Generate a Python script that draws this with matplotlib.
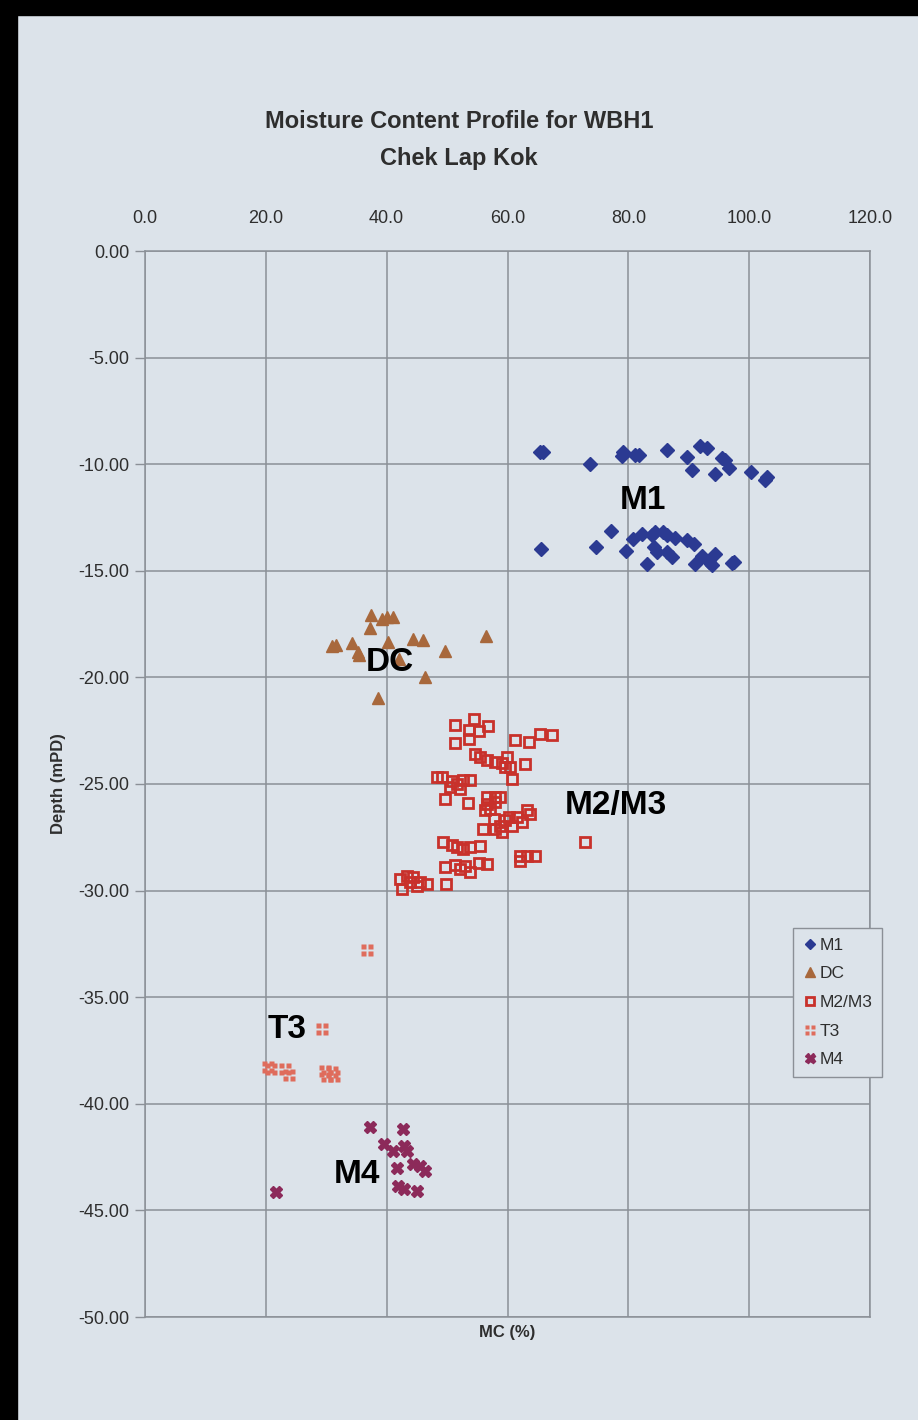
import numpy as np
import matplotlib.pyplot as plt
from matplotlib.path import Path
from matplotlib.patches import Rectangle

# moisture content (%) and depth (mPD)
m1_mc = [65.4, 65.8, 73.6, 78.9, 79.1, 81.1, 81.7, 86.4, 89.7, 91.9, 93.0, 90.6, 95.5, 96.0,
         96.7, 94.4, 100.3, 102.6, 103.0,
         65.6, 74.7, 77.1, 79.6, 80.7, 82.2, 83.9, 84.4, 85.8, 86.4, 87.7, 84.2, 84.7, 86.4,
         87.2, 83.1, 89.7, 90.8, 91.1, 92.2, 93.4, 94.4, 93.8, 97.1, 97.5]
m1_depth = [-9.45, -9.45, -10.0, -9.62, -9.42, -9.55, -9.55, -9.34, -9.66, -9.15, -9.26, -10.28,
            -9.73, -9.81, -10.2, -10.47, -10.36, -10.75, -10.6,
            -13.99, -13.9, -13.13, -14.08, -13.49, -13.29, -13.33, -13.18, -13.18, -13.33, -13.44,
            -13.88, -14.1, -14.1, -14.35, -14.69, -13.57, -13.72, -14.69, -14.32, -14.58, -14.19,
            -14.74, -14.63, -14.6]

dc_mc = [37.4, 40.0, 41.1, 39.2, 37.3, 30.9, 31.6, 34.2, 35.3, 35.5, 40.2, 44.3, 46.0, 49.7,
         56.5, 42.1, 46.4, 38.5]
dc_depth = [-17.09, -17.17, -17.17, -17.25, -17.7, -18.54, -18.5, -18.39, -18.81, -18.97,
            -18.34, -18.19, -18.26, -18.78, -18.07, -19.13, -19.98, -20.95]

m23_mc = [51.3, 54.4, 53.7, 55.2, 56.7, 53.7, 51.3, 61.3, 63.6, 65.4, 67.3,
          54.6, 55.5, 56.6, 57.9, 59.1, 59.9, 60.4, 60.7, 62.9, 59.6,
          48.3, 49.1, 50.8, 51.6, 52.7, 53.8, 50.5, 52.2, 49.7, 53.5,
          56.6, 57.9, 58.8, 56.6, 57.1, 57.9, 56.3,
          60.2, 61.5, 63.2, 63.7, 62.4, 59.6, 58.8, 57.9, 56.0, 57.7, 60.7, 59.1,
          72.8, 49.4, 50.8, 51.6, 52.7, 53.8, 55.5,
          62.1, 63.2, 64.6, 62.1,
          49.7, 51.3, 52.2, 53.0, 53.8, 55.2, 56.6, 49.9,
          42.2, 43.3, 44.4, 45.5, 46.6, 42.5, 45.0, 43.9]
m23_depth = [-22.22, -21.94, -22.49, -22.52, -22.3, -22.88, -23.08, -22.93, -23.04, -22.64, -22.72,
             -23.58, -23.74, -23.87, -23.98, -24.02, -23.74, -24.21, -24.76, -24.05, -24.21,
             -24.65, -24.65, -24.84, -24.99, -24.8, -24.8, -25.15, -25.23, -25.7, -25.9,
             -25.62, -25.62, -25.62, -25.93, -26.17, -25.85, -26.24,
             -26.53, -26.53, -26.24, -26.4, -26.79, -26.71, -26.95, -27.1, -27.1, -26.64, -26.95, -27.26,
             -27.73, -27.73, -27.84, -27.97, -28.04, -27.97, -27.89,
             -28.36, -28.36, -28.36, -28.6,
             -28.9, -28.79, -28.98, -28.83, -29.14, -28.71, -28.75, -29.69,
             -29.45, -29.3, -29.37, -29.61, -29.69, -29.92, -29.77, -29.61]

t3_mc = [36.7, 29.3, 20.4, 20.9, 23.2, 23.9, 29.8, 30.9, 30.1, 31.2]
t3_depth = [-32.78, -36.49, -38.29, -38.37, -38.37, -38.64, -38.45, -38.53, -38.69, -38.69]

m4_mc = [37.3, 42.7, 39.5, 41.1, 42.8, 43.3, 41.7, 44.4, 45.5, 46.4, 41.9, 42.8, 45.0, 21.7]
m4_depth = [-41.08, -41.16, -41.89, -42.21, -41.97, -42.21, -42.99, -42.83, -42.91, -43.15,
            -43.85, -44.0, -44.08, -44.12]

x_ticks = [0, 20, 40, 60, 80, 100, 120]
y_ticks = [0, -5, -10, -15, -20, -25, -30, -35, -40, -45, -50]

# cluster labels written on the slide
labels = ['M1', 'DC', 'M2/M3', 'T3', 'M4']
label_x = [82.5, 40.5, 78.0, 23.5, 35.0]
label_y = [-11.7, -19.3, -26.0, -36.5, -43.3]

bg = '#dce3ea'
grid_c = '#8b9097'
txt_c = '#2e2e2e'
font = ['Liberation Sans Narrow', 'Liberation Sans', 'DejaVu Sans']

# four little squares, like the Excel marker used for T3
def four_squares():
    paths = []
    for x0 in (-1.0, 0.12):
        for y0 in (-1.0, 0.12):
            paths.append(Path([(x0, y0), (x0 + 0.88, y0), (x0 + 0.88, y0 + 0.88),
                               (x0, y0 + 0.88), (x0, y0)],
                              [Path.MOVETO, Path.LINETO, Path.LINETO, Path.LINETO, Path.CLOSEPOLY]))
    return Path.make_compound_path(*paths)

fig = plt.figure(figsize=(9.18, 14.2), dpi=100, facecolor=bg)
# black slide-mount edges
fig.patches.append(Rectangle((0, 0), 17 / 918, 1, transform=fig.transFigure, color='black', zorder=0))
fig.patches.append(Rectangle((0, 1 - 15 / 1420), 1, 15 / 1420, transform=fig.transFigure,
                             color='black', zorder=0))

ax = fig.add_axes([145 / 918, 1 - 1317 / 1420, 725 / 918, 1066 / 1420])
ax.set_facecolor(bg)

ax.plot(m1_mc, m1_depth, 'D', ms=7, color='#2b3a92', mec='#2b3a92', label='M1', zorder=3)
ax.plot(dc_mc, dc_depth, '^', ms=8.5, color='#a8683c', mec='#a8683c', label='DC', zorder=3)
ax.plot(m23_mc, m23_depth, 's', ms=7.5, mfc='none', mec='#c8312b', mew=2, label='M2/M3', zorder=3)
ax.plot(t3_mc, t3_depth, marker=four_squares(), ls='none', ms=8.5, color='#df6c5c', mec='none',
        label='T3', zorder=3)
ax.plot(m4_mc, m4_depth, 'X', ms=9, color='#8c2a5a', mec='#8c2a5a', label='M4', zorder=3)

for lab, lx, ly in zip(labels, label_x, label_y):
    ax.text(lx, ly, lab, fontsize=24, fontweight='bold', color='black',
            family=['Liberation Sans', 'DejaVu Sans'], ha='center', va='center', zorder=4)

ax.set_xlim(0, 120)
ax.set_ylim(-50, 0)
ax.set_xticks(x_ticks)
ax.set_yticks(y_ticks)
ax.set_xticklabels(['%.1f' % v for v in x_ticks])
ax.set_yticklabels(['%.2f' % v for v in y_ticks])
ax.xaxis.tick_top()
ax.tick_params(axis='x', length=0, pad=17, labelsize=13, labelcolor=txt_c)
ax.tick_params(axis='y', length=7, width=1, color=grid_c, pad=4, labelsize=13, labelcolor=txt_c)
for t in ax.get_xticklabels() + ax.get_yticklabels():
    t.set_family(font)
ax.grid(True, color=grid_c, lw=1.1)
ax.set_axisbelow(True)
for s in ax.spines.values():
    s.set_color(grid_c)
    s.set_linewidth(1.1)

ax.set_xlabel('MC (%)', fontsize=12, fontweight='bold', family=font, color=txt_c, labelpad=6)
ax.xaxis.set_label_position('bottom')
ax.set_ylabel('Depth (mPD)', fontsize=12, fontweight='bold', family=font, color=txt_c,
              labelpad=9)

fig.text(459 / 918, 1 - 122 / 1420, 'Moisture Content Profile for WBH1', ha='center', va='center',
         fontsize=17, fontweight='bold', family=font, color=txt_c)
fig.text(459 / 918, 1 - 158 / 1420, 'Chek Lap Kok', ha='center', va='center',
         fontsize=17, fontweight='bold', family=font, color=txt_c)

leg = ax.legend(loc='upper left', bbox_to_anchor=(793 / 918, 1 - 928 / 1420),
                bbox_transform=fig.transFigure, frameon=True, fancybox=False, borderaxespad=0,
                prop={'family': font, 'size': 12.5}, handletextpad=0.1, handlelength=0.9,
                labelspacing=0.78, borderpad=0.55, markerscale=0.8)
leg.get_frame().set_facecolor(bg)
leg.get_frame().set_edgecolor(grid_c)
leg.get_frame().set_alpha(1)
for t in leg.get_texts():
    t.set_color(txt_c)

fig.savefig('out.png', dpi=100, facecolor=bg)
